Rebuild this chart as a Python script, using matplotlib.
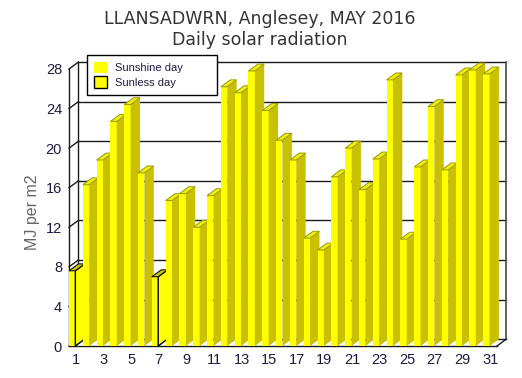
import matplotlib
matplotlib.use("Agg")
import matplotlib.pyplot as plt
from matplotlib.patches import Polygon, Patch

days = list(range(1, 32))
radiation = [7.6, 16.3, 18.8, 22.7, 24.4, 17.5, 7.0, 14.7, 15.4, 12.0,
             15.2, 26.2, 25.6, 27.8, 23.8, 20.8, 18.8, 10.9, 9.7, 17.1,
             20.0, 15.8, 18.9, 26.9, 10.8, 18.1, 24.2, 17.8, 27.4, 27.9, 27.5]
sunless = [1, 7]
yticks = [0, 4, 8, 12, 16, 20, 24, 28]
xticks = list(range(1, 32, 2))

FRONT = "#ffff00"
SIDE = "#c8c000"
TOP = "#eeee10"
DX = 0.68   # depth offset in days
DY = 0.7    # depth offset in MJ

fig = plt.figure(figsize=(5.22, 3.78), dpi=100)
ax = fig.add_axes([69 / 522, 32 / 378, 428 / 522, 277 / 378])
ax.set_xlim(0.5, 31.5)
ax.set_ylim(0, 28)
for s in ax.spines.values():
    s.set_visible(False)

x0, x1 = 0.5, 31.5
line_kw = dict(color="#1a1a1a", lw=1.0, clip_on=False, zorder=1)
# back wall
for v in yticks:
    ax.plot([x0 + DX, x1 + DX], [v + DY, v + DY], **line_kw)
    ax.plot([x0, x0 + DX], [v, v + DY], **line_kw)
ax.plot([x0 + DX, x0 + DX], [DY, 28 + DY], **line_kw)
ax.plot([x1 + DX, x1 + DX], [DY, 28 + DY], color="#555555", lw=1.3, clip_on=False, zorder=1)
ax.plot([x0, x0], [0, 28], **line_kw)
ax.plot([x0, x1], [0, 0], **line_kw)
ax.plot([x1, x1 + DX], [0, DY], **line_kw)

# bars, drawn left to right so the next front hides the previous side
for i, (d, v) in enumerate(zip(days, radiation)):
    z = 2 + i * 0.01
    left = d - 0.5
    right = d - 0.04
    dark = d in sunless
    ax.add_patch(Polygon([(left, 0), (right, 0), (right, v), (left, v)],
                         closed=True, facecolor=FRONT, edgecolor="none",
                         zorder=z, clip_on=False))
    ax.add_patch(Polygon([(right, 0), (right + DX, DY), (right + DX, v + DY), (right, v)],
                         closed=True, facecolor=FRONT if dark else SIDE,
                         edgecolor="black" if dark else "none", lw=1.0,
                         zorder=z, clip_on=False))
    ax.add_patch(Polygon([(left, v), (right, v), (right + DX, v + DY), (left + DX, v + DY)],
                         closed=True, facecolor=SIDE if dark else TOP,
                         edgecolor="black" if dark else "#9a9a00", lw=0.7,
                         zorder=z, clip_on=False))

ax.set_yticks(yticks)
ax.set_yticklabels([str(t) for t in yticks], family="Liberation Sans",
                   fontsize=10.5, color="#1c1c40")
ax.set_xticks(xticks)
ax.set_xticklabels([str(t) for t in xticks], family="Liberation Sans",
                   fontsize=10.5, color="#1c1c40")
ax.tick_params(axis="y", length=0, pad=5)
ax.tick_params(axis="x", length=0, pad=5)

fig.text(33 / 522, 1 - 212 / 378, "MJ per m2", rotation=90, ha="center", va="center",
         family="Liberation Sans", fontsize=11.5, color="#666666")

fig.text(260 / 522, 1 - 19 / 378, "LLANSADWRN, Anglesey, MAY 2016", ha="center", va="center",
         family="DejaVu Sans", fontsize=12.5, color="#333333")
fig.text(260 / 522, 1 - 40 / 378, "Daily solar radiation", ha="center", va="center",
         family="DejaVu Sans", fontsize=12.5, color="#333333")

handles = [Patch(facecolor=FRONT, edgecolor="none"),
           Patch(facecolor=FRONT, edgecolor="black", lw=1.0)]
leg = ax.legend(handles, ["Sunshine day", "Sunless day"], loc="upper left",
                bbox_to_anchor=(87 / 522, 1 - 97 / 378, 130 / 522, 42 / 378),
                bbox_transform=fig.transFigure, mode="expand", borderaxespad=0,
                fancybox=False, framealpha=1, edgecolor="black",
                prop={"family": "Liberation Sans", "size": 8},
                handlelength=1.2, handleheight=1.2, handletextpad=0.7,
                labelspacing=0.3, borderpad=0.6)
leg.get_frame().set_linewidth(1.0)
leg.set_zorder(10)
for t in leg.get_texts():
    t.set_color("#1c1c40")

fig.savefig("out.png", dpi=100)
